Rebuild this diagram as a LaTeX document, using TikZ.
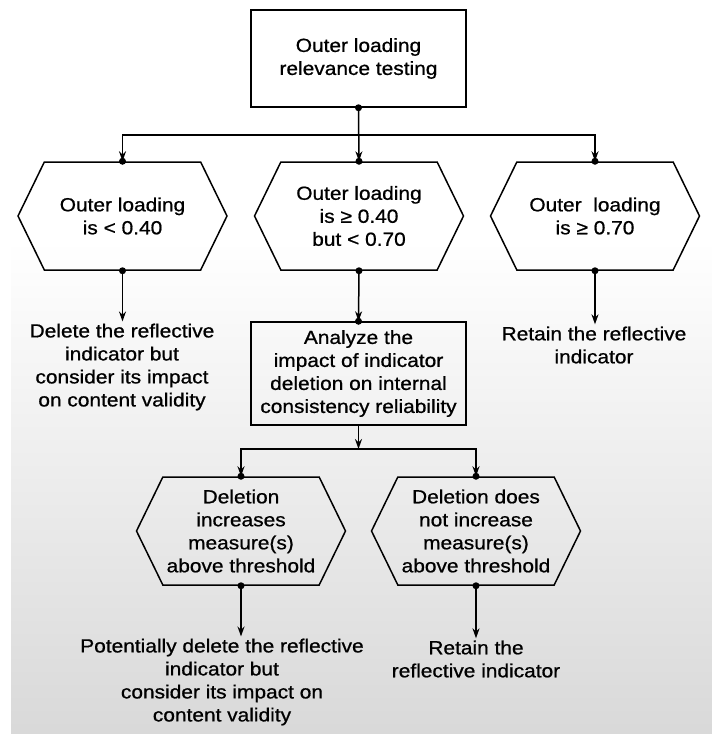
\documentclass[tikz,border=0pt]{standalone}
\usepackage{fontspec}
\setmainfont[FakeStretch=1.1, FakeBold=0.8]{Liberation Sans}
\usepackage{tikz}
\usetikzlibrary{shapes,arrows.meta,positioning,calc}

\begin{document}
\begin{tikzpicture}[x=1pt, y=-1pt,
    txt/.style={font=\fontsize{19}{23}\selectfont, align=center, inner sep=2pt},
    box/.style={txt, rectangle, draw, line width=1.5pt, minimum width=215pt, minimum height=100pt},
    decision/.style={txt, signal, signal to=west and east, signal pointer angle=128, draw, line width=1.5pt, minimum width=209pt, minimum height=108pt},
    arrow/.style={-{Stealth[length=10pt, width=7pt]}, line width=1.5pt},
    dot/.style={fill, radius=3.5pt}]

    % background
    \useasboundingbox (0,0) rectangle (712,742);
    \fill[white] (0,0) rectangle (712,742);
    \shade[top color=white, bottom color=gray!30] (11,240) rectangle (712,733);

    \node[box, minimum height=97pt] (relevance) at (358.5,58.5) {Outer loading\\relevance testing};
    \node[decision] (lowload) at (122.5,216) {Outer loading\\is < 0.40};
    \node[decision] (midload) at (359,216) {Outer loading\\is ≥ 0.40\\but < 0.70};
    \node[decision] (highload) at (595,216) {Outer \ loading\\is ≥ 0.70};

    \node[txt] (delete) at (122,367) {Delete the reflective\\indicator but\\consider its impact\\on content validity};
    \node[box, minimum height=103pt] (analyze) at (358.5,373.5) {Analyze the\\impact of indicator\\deletion on internal\\consistency reliability};
    \node[txt] (retain) at (594,345) {Retain the reflective\\indicator};

    \node[decision] (incr) at (241,531) {Deletion\\increases\\measure(s)\\above threshold};
    \node[decision] (noincr) at (476,531) {Deletion does\\not increase\\measure(s)\\above threshold};

    \node[txt] (potential) at (222,682) {Potentially delete the reflective\\indicator but\\consider its impact on\\content validity};
    \node[txt] (retaintwo) at (476,659) {Retain the\\reflective indicator};

    \coordinate (split) at (358.5,135);
    \coordinate (splittwo) at (358.5,449);

    % connectors
    \draw[arrow] (relevance.south) -- (split) -| (lowload.north);
    \draw[arrow] (split) -| (highload.north);
    \draw[arrow] (relevance.south) -- (midload.north);
    \draw[arrow] (lowload.south) -- (lowload.south |- delete.north);
    \draw[arrow] (midload.south) -- (analyze.north);
    \draw[arrow] (highload.south) -- (highload.south |- retain.north);
    \draw[arrow] (analyze.south) -- (splittwo);
    \draw[arrow] (splittwo) -| (incr.north);
    \draw[arrow] (splittwo) -| (noincr.north);
    \draw[arrow] (incr.south) -- (incr.south |- potential.north);
    \draw[arrow] (noincr.south) -- (noincr.south |- retaintwo.north);

    % dots
    \foreach \n in {relevance.south, lowload.north, midload.north, highload.north,
        lowload.south, midload.south, highload.south, analyze.north,
        incr.north, noincr.north, incr.south, noincr.south}
        \fill[dot] (\n) circle;
\end{tikzpicture}
\end{document}
